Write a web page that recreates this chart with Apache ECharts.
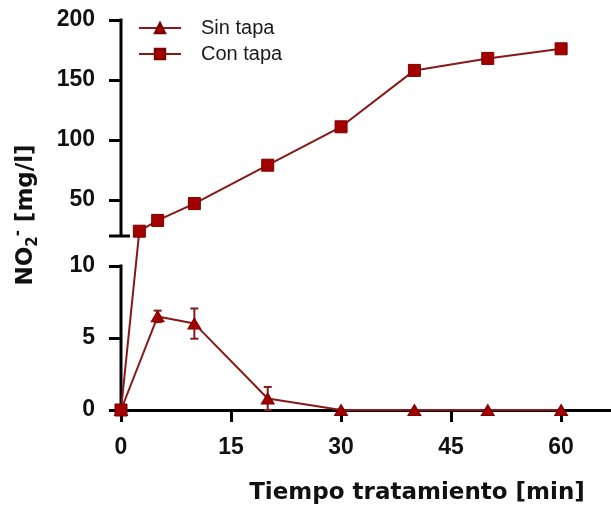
<!DOCTYPE html>
<html>
<head>
<meta charset="utf-8">
<script src="https://cdn.jsdelivr.net/npm/echarts@6/dist/echarts.min.js"></script>
<style>
  html, body { margin: 0; padding: 0; background: #fff; }
  #chart { width: 611px; height: 511px; }
</style>
</head>
<body>
<div id="chart"></div>
<script>
// Nitrite concentration over treatment time, with and without lid
const conTapaX = [0, 2.5, 5, 10, 20, 30, 40, 50, 60];
const conTapa = [0, 24, 33, 47, 79, 111, 158, 168, 176];
const sinTapaX = [0, 5, 10, 20, 30, 40, 50, 60];
const sinTapa = [0, 6.5, 6.0, 0.8, 0, 0, 0, 0];
const sinTapaErr = [0, 0.4, 1.05, 0.8, 0, 0, 0, 0];
const xTicks = [0, 15, 30, 45, 60];
const yTicksLow = [0, 5, 10];
const yTicksHigh = [50, 100, 150, 200];

// Broken y axis: lower segment 0-10, upper segment 20-200.
// Values are mapped onto one continuous display scale (pixel-sized units).
const LOW = [0, 10], HIGH = [20, 200];
const LOW_SPAN = 144, GAP_SPAN = 30, HIGH_SPAN = 216;
const TOTAL_SPAN = LOW_SPAN + GAP_SPAN + HIGH_SPAN;
function toDisplay(v) {
  if (v <= LOW[1]) return (v - LOW[0]) / (LOW[1] - LOW[0]) * LOW_SPAN;
  return LOW_SPAN + GAP_SPAN + (v - HIGH[0]) / (HIGH[1] - HIGH[0]) * HIGH_SPAN;
}
function fromDisplay(d) {
  let v;
  if (d <= LOW_SPAN) v = LOW[0] + d / LOW_SPAN * (LOW[1] - LOW[0]);
  else v = HIGH[0] + (d - LOW_SPAN - GAP_SPAN) / HIGH_SPAN * (HIGH[1] - HIGH[0]);
  return Math.round(v * 100) / 100;
}

const RED = '#a30000';
const LINE = '#861818';
const TICK_FONT = 'Liberation Sans, Arial, sans-serif';
const TITLE_FONT = 'DejaVu Sans, sans-serif';

const conData = conTapaX.map((x, i) => [x, toDisplay(conTapa[i])]);
const sinData = sinTapaX.map((x, i) => [x, toDisplay(sinTapa[i])]);
const errData = sinTapaX.map((x, i) => [x, toDisplay(sinTapa[i] - sinTapaErr[i]), toDisplay(sinTapa[i] + sinTapaErr[i])])
  .filter((d, i) => sinTapaErr[i] > 0);
const yTickDisplay = yTicksLow.concat(yTicksHigh).map(toDisplay);

const chart = echarts.init(document.getElementById('chart'), null, { renderer: 'canvas' });

chart.setOption({
  backgroundColor: '#ffffff',
  animation: false,
  grid: { left: 121, right: 0, top: 20, height: TOTAL_SPAN },
  legend: {
    data: ['Sin tapa', 'Con tapa'],
    orient: 'vertical',
    left: 133,
    top: 13,
    itemWidth: 42,
    itemHeight: 13,
    itemGap: 6,
    textStyle: {
      fontFamily: TICK_FONT,
      fontSize: 20,
      color: '#1a1a1a',
      lineHeight: 20,
      padding: [0, 0, 0, 15]
    }
  },
  xAxis: {
    type: 'value',
    min: 0,
    max: 66.8,
    axisLine: { show: true, lineStyle: { color: '#000', width: 3 } },
    axisTick: { show: true, customValues: xTicks, length: 12, lineStyle: { color: '#000', width: 3 } },
    axisLabel: {
      customValues: xTicks,
      margin: 26,
      color: '#111',
      fontFamily: TICK_FONT,
      fontWeight: 'bold',
      fontSize: 23
    },
    splitLine: { show: false }
  },
  yAxis: {
    type: 'value',
    min: 0,
    max: TOTAL_SPAN,
    axisLine: { show: false },
    axisTick: { show: true, inside: false, customValues: yTickDisplay, length: 12, lineStyle: { color: '#000', width: 3 } },
    axisLabel: {
      customValues: yTickDisplay,
      margin: 26,
      color: '#111',
      fontFamily: TICK_FONT,
      fontWeight: 'bold',
      fontSize: 23,
      formatter: (d) => String(fromDisplay(d))
    },
    splitLine: { show: false }
  },
  series: [
    {
      name: 'Sin tapa',
      type: 'line',
      data: sinData,
      symbol: 'triangle',
      symbolSize: [13, 11],
      clip: false,
      z: 3,
      lineStyle: { color: LINE, width: 2 },
      itemStyle: { color: RED, borderColor: '#7a0000', borderWidth: 1 }
    },
    {
      name: 'Con tapa',
      type: 'line',
      data: conData,
      symbol: 'rect',
      symbolSize: 12,
      clip: false,
      z: 4,
      lineStyle: { color: LINE, width: 2 },
      itemStyle: { color: RED, borderColor: '#7a0000', borderWidth: 1 }
    },
    {
      name: 'Sin tapa SD',
      type: 'custom',
      data: errData,
      z: 2,
      clip: false,
      renderItem: function (params, api) {
        const x = api.value(0);
        const lo = api.coord([x, api.value(1)]);
        const hi = api.coord([x, api.value(2)]);
        const cap = 4;
        const style = { stroke: LINE, lineWidth: 2 };
        return {
          type: 'group',
          children: [
            { type: 'line', shape: { x1: lo[0], y1: lo[1], x2: hi[0], y2: hi[1] }, style },
            { type: 'line', shape: { x1: hi[0] - cap, y1: hi[1], x2: hi[0] + cap, y2: hi[1] }, style },
            { type: 'line', shape: { x1: lo[0] - cap, y1: lo[1], x2: lo[0] + cap, y2: lo[1] }, style }
          ]
        };
      }
    }
  ]
});

// Axis segments, break cap and titles
const p = (x, d) => chart.convertToPixel({ gridIndex: 0 }, [x, d]);
const axisStyle = { stroke: '#000', lineWidth: 3 };
const b0 = p(0, 0), b1 = p(0, LOW_SPAN);
const t0 = p(0, LOW_SPAN + GAP_SPAN), t1 = p(0, TOTAL_SPAN);
const grid = chart.getModel().getComponent('grid').coordinateSystem.getRect();

chart.setOption({
  graphic: [
    { type: 'line', z: 1, shape: { x1: b0[0], y1: b0[1] + 1.5, x2: b1[0], y2: b1[1] - 1.5 }, style: axisStyle },
    { type: 'line', z: 1, shape: { x1: t0[0], y1: t0[1], x2: t1[0], y2: t1[1] - 1.5 }, style: axisStyle },
    { type: 'line', z: 1, shape: { x1: t0[0] - 12, y1: t0[1], x2: t0[0] + 9, y2: t0[1] }, style: axisStyle },
    {
      type: 'text',
      z: 5,
      x: 26,
      y: grid.y + grid.height / 2,
      rotation: Math.PI / 2,
      style: {
        text: '{b|NO}{sub|2}{sup|-}{b| [mg/l]}',
        align: 'center',
        verticalAlign: 'middle',
        fill: '#111',
        rich: {
          b: { fontFamily: TITLE_FONT, fontWeight: 'bold', fontSize: 23, lineHeight: 30, fill: '#111' },
          sub: { fontFamily: TITLE_FONT, fontWeight: 'bold', fontSize: 15, lineHeight: 15, verticalAlign: 'bottom', fill: '#111' },
          sup: { fontFamily: TITLE_FONT, fontWeight: 'bold', fontSize: 15, lineHeight: 15, verticalAlign: 'top', fill: '#111' }
        }
      }
    },
    {
      type: 'text',
      z: 5,
      x: 417,
      y: 493,
      style: {
        text: 'Tiempo tratamiento [min]',
        align: 'center',
        verticalAlign: 'middle',
        fill: '#111',
        fontFamily: TITLE_FONT,
        fontWeight: 'bold',
        fontSize: 23
      }
    }
  ]
});
</script>
</body>
</html>
